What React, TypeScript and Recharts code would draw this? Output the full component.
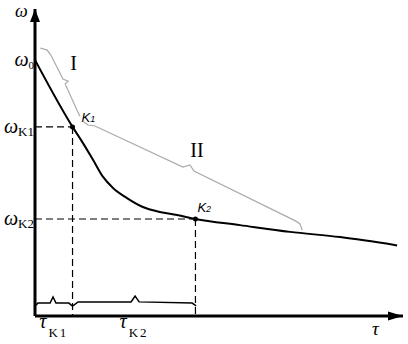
import React from 'react';
import { ComposedChart, Line, XAxis, YAxis, ReferenceLine, ReferenceDot } from 'recharts';

// main curve omega(tau)
const tau = [0, 10.2, 13.0, 15.8, 18.5, 21.2, 25.0, 29.3, 33.9, 38.6, 43.6, 55.7, 69.3, 82.9, 98.4];
const omega = [83.4, 61.6, 56.4, 50.8, 45.3, 41.7, 38.4, 35.5, 33.9, 32.9, 31.6, 29.6, 27.4, 25.7, 23.0];

// characteristic points
const omega0 = 83.4;
const tauK1 = 10.2;
const omegaK1 = 61.6;
const tauK2 = 43.6;
const omegaK2 = 31.6;

// grey braces marking stages I and II
const braceITau = [1.4, 3.3, 4.3, 7.6, 9.0, 8.2, 11.4, 12.2];
const braceIOmega = [87.3, 86.6, 85.0, 77.2, 76.5, 75.6, 67.1, 65.1];
const braceIITau = [13.3, 14.4, 16.3, 40.2, 42.1, 43.2, 70.9, 72.0, 72.6];
const braceIIOmega = [63.2, 62.2, 61.9, 48.5, 49.2, 47.2, 30.9, 30.0, 28.0];

// black braces over the time axis
const braceK1Tau = [0, 0.8, 4.1, 4.9, 5.7, 9.2, 10.1];
const braceK1Omega = [3.3, 4.2, 4.2, 6.2, 4.2, 4.2, 3.3];
const braceK2Tau = [10.3, 11.7, 26.1, 27.2, 28.3, 42.7, 43.8];
const braceK2Omega = [3.3, 4.6, 4.6, 6.5, 4.6, 4.2, 3.3];

// stage labels
const stageNames = ['I', 'II'];
const stageTau = [10.5, 44.0];
const stageOmega = [82.4, 54.1];

const zip = (t: number[], w: number[]) => t.map((v, i) => ({ t: v, w: w[i] }));

const curve = zip(tau, omega);
const braceI = zip(braceITau, braceIOmega);
const braceII = zip(braceIITau, braceIIOmega);
const braceK1 = zip(braceK1Tau, braceK1Omega);
const braceK2 = zip(braceK2Tau, braceK2Omega);

const SERIF = 'Liberation Serif, Times New Roman, serif';
const SANS = 'Liberation Sans, Arial, sans-serif';

const XTick = (props: any) => {
  const { x, y, payload } = props;
  const sub = payload.value < tauK1 ? 'K1' : 'K2';
  return (
    <text x={x} y={y + 4} textAnchor="middle" fontFamily={SERIF} fill="#000">
      <tspan fontStyle="italic" fontSize={20}>τ</tspan>
      <tspan fontSize={13} dx={2} dy={9} letterSpacing={2}>{sub}</tspan>
    </text>
  );
};

const YTick = (props: any) => {
  const { x, y, payload } = props;
  const v = payload.value;
  const sub = v === omega0 ? '0' : v === omegaK1 ? 'K1' : 'K2';
  return (
    <text x={x + 7} y={y + 6} textAnchor="end" fontFamily={SERIF} fill="#000">
      <tspan fontStyle="italic" fontSize={20}>ω</tspan>
      <tspan fontSize={sub === '0' ? 11 : 13} dy={3}>{sub}</tspan>
    </text>
  );
};

const pointLabel = (name: string, dx: number, dy: number) => (p: any) => (
  <g>
    <circle cx={p.cx} cy={p.cy} r={2.5} fill="#000" />
    <text x={p.cx + dx} y={p.cy + dy} fontFamily={SANS} fontStyle="italic" fill="#000">
      <tspan fontSize={13}>K</tspan>
      <tspan fontSize={9}>{name}</tspan>
    </text>
  </g>
);

export default function App() {
  return (
    <div style={{ position: 'absolute', left: 0, top: 0, background: '#fff' }}>
      <ComposedChart width={408} height={344} data={curve} margin={{ top: 9, right: 5, bottom: 0, left: 0 }}>
        <XAxis
          type="number"
          dataKey="t"
          domain={[0, 100]}
          allowDataOverflow
          ticks={[tauK1 / 2, (tauK1 + tauK2) / 2]}
          interval={0}
          tick={XTick}
          tickLine={false}
          height={28}
          axisLine={{ stroke: '#000', strokeWidth: 3 }}
          label={{
            content: (p: any) => (
              <text x={p.viewBox.x + p.viewBox.width - 31} y={p.viewBox.y + 19} fontFamily={SERIF} fontStyle="italic" fontSize={19} fill="#000">τ</text>
            ),
          }}
        />
        <YAxis
          type="number"
          domain={[0, 100]}
          allowDataOverflow
          ticks={[omega0, omegaK1, omegaK2]}
          interval={0}
          tick={YTick}
          tickLine={false}
          width={35}
          axisLine={{ stroke: '#000', strokeWidth: 3 }}
          label={{
            content: (p: any) => (
              <text x={p.viewBox.x + 15} y={p.viewBox.y + 8} fontFamily={SERIF} fontStyle="italic" fontSize={18} fill="#000">ω</text>
            ),
          }}
        />

        <ReferenceLine segment={[{ x: 0, y: omegaK1 }, { x: tauK1, y: omegaK1 }]} stroke="#000" strokeWidth={1.2} strokeDasharray="7 4" />
        <ReferenceLine segment={[{ x: tauK1, y: omegaK1 }, { x: tauK1, y: 0 }]} stroke="#000" strokeWidth={1.2} strokeDasharray="7 4" />
        <ReferenceLine segment={[{ x: 0, y: omegaK2 }, { x: tauK2, y: omegaK2 }]} stroke="#000" strokeWidth={1.2} strokeDasharray="7 4" />
        <ReferenceLine segment={[{ x: tauK2, y: omegaK2 }, { x: tauK2, y: 0 }]} stroke="#000" strokeWidth={1.2} strokeDasharray="7 4" />

        <Line data={braceI} dataKey="w" type="linear" stroke="#aaa" strokeWidth={1.2} dot={false} isAnimationActive={false} />
        <Line data={braceII} dataKey="w" type="linear" stroke="#aaa" strokeWidth={1.2} dot={false} isAnimationActive={false} />
        <Line data={braceK1} dataKey="w" type="linear" stroke="#000" strokeWidth={1.5} dot={false} isAnimationActive={false} />
        <Line data={braceK2} dataKey="w" type="linear" stroke="#000" strokeWidth={1.5} dot={false} isAnimationActive={false} />
        <Line dataKey="w" type="monotone" stroke="#000" strokeWidth={2} dot={false} isAnimationActive={false} />

        <ReferenceDot x={tauK1} y={omegaK1} ifOverflow="visible" shape={pointLabel('1', 9, -5)} />
        <ReferenceDot x={tauK2} y={omegaK2} ifOverflow="visible" shape={pointLabel('2', 2, -7)} />

        {stageNames.map((s, i) => (
          <ReferenceDot
            key={s}
            x={stageTau[i]}
            y={stageOmega[i]}
            ifOverflow="visible"
            shape={(p: any) => (
              <text x={p.cx} y={p.cy + 7} textAnchor="middle" fontFamily={SERIF} fontSize={20} fill="#000">{s}</text>
            )}
          />
        ))}

        <ReferenceDot
          x={100}
          y={0}
          ifOverflow="visible"
          shape={(p: any) => <polygon points={`${p.cx},${p.cy} ${p.cx - 15},${p.cy - 4.5} ${p.cx - 15},${p.cy + 4.5}`} fill="#000" />}
        />
        <ReferenceDot
          x={0}
          y={100}
          ifOverflow="visible"
          shape={(p: any) => <polygon points={`${p.cx},${p.cy} ${p.cx - 5},${p.cy + 13} ${p.cx + 5},${p.cy + 13}`} fill="#000" />}
        />
      </ComposedChart>
    </div>
  );
}
